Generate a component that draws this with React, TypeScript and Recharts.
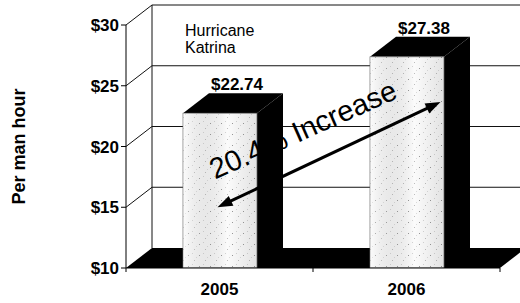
import React from 'react';
import {
  BarChart,
  Bar,
  XAxis,
  YAxis,
  CartesianGrid,
  LabelList,
  ReferenceLine,
  ReferenceDot,
} from 'recharts';

// ---- data ----
const years = ['2005', '2006'];
const costPerManHour = [22.74, 27.38];
const yTicks = [10, 15, 20, 25, 30];
const yAxisTitle = 'Per man hour';
const noteLines = ['Hurricane', 'Katrina'];
const increaseLabel = '20.4% Increase';
const arrowFrom = { year: '2005', value: 15 };
const arrowTo = { year: '2006', value: 23.66 };
const notePoint = { year: '2005', value: 29 };

const data = years.map((year, i) => ({ year, value: costPerManHour[i] }));

// ---- layout / style ----
const W = 520;
const H = 303;
const MARGIN = { top: 25, right: 20, bottom: 5, left: 0 };
const X_AXIS_H = 30;
const PLOT_BOTTOM = H - MARGIN.bottom - X_AXIS_H;
const DX = 26;
const DY = 20;
const FONT = '"Liberation Sans", Arial, Helvetica, sans-serif';

const gridLine = (props: any) => {
  const { x1, y1, x2, index } = props;
  const isFloor = Math.abs(y1 - PLOT_BOTTOM) < 1;
  if (isFloor) {
    const n = years.length;
    const ticks = [];
    for (let i = 0; i <= n; i++) {
      const tx = x1 + ((x2 - x1) * i) / n;
      ticks.push(<line key={i} x1={tx} y1={y1} x2={tx} y2={y1 + 4} stroke="#000" strokeWidth={1} />);
    }
    return (
      <g key={`grid-${index}`}>
        <polygon
          points={`${x1},${y1} ${x2},${y1} ${x2 + DX},${y1 - DY} ${x1 + DX},${y1 - DY}`}
          fill="#000"
        />
        {ticks}
      </g>
    );
  }
  return (
    <g key={`grid-${index}`}>
      <line x1={x1} y1={y1} x2={x1 + DX} y2={y1 - DY} stroke="#111" strokeWidth={1} />
      <line x1={x1 + DX} y1={y1 - DY} x2={x2 + DX + 40} y2={y1 - DY} stroke="#111" strokeWidth={1} />
    </g>
  );
};

const Bar3D = (props: any) => {
  const { x, y, width, height, index } = props;
  const bottom = y + height;
  const pid = `dots-${index}`;
  const gid = `shade-${index}`;
  return (
    <g>
      <defs>
        <pattern id={pid} width="11" height="11" patternUnits="userSpaceOnUse">
          <rect width="11" height="11" fill="#fbfbfb" />
          <rect x="1" y="2" width="1" height="1" fill="#9a9a9a" />
          <rect x="7" y="7" width="1" height="1" fill="#bdbdbd" />
          <rect x="5" y="0" width="1" height="1" fill="#d4d4d4" />
          <rect x="9" y="4" width="1" height="1" fill="#dcdcdc" />
        </pattern>
        <linearGradient id={gid} x1="0" y1="0" x2="1" y2="0">
          <stop offset="0%" stopColor="#ffffff" stopOpacity={0.3} />
          <stop offset="60%" stopColor="#000000" stopOpacity={0.0} />
          <stop offset="100%" stopColor="#000000" stopOpacity={0.1} />
        </linearGradient>
      </defs>
      <polygon
        points={`${x + width},${y} ${x + width + DX},${y - DY} ${x + width + DX},${bottom - DY} ${x + width},${bottom}`}
        fill="#000"
      />
      <polygon
        points={`${x},${y} ${x + DX},${y - DY} ${x + width + DX},${y - DY} ${x + width},${y}`}
        fill="#000"
      />
      <rect x={x} y={y} width={width} height={height} fill={`url(#${pid})`} stroke="#666" strokeWidth={0.7} />
      <rect x={x} y={y} width={width} height={height} fill={`url(#${gid})`} />
    </g>
  );
};

const renderBarLabel = (props: any) => {
  const { x, y, width, value } = props;
  return (
    <text
      x={x + width / 2 + 17}
      y={y - DY - 3}
      textAnchor="middle"
      fontFamily={FONT}
      fontWeight="bold"
      fontSize={17}
      fill="#000"
    >
      {`$${Number(value).toFixed(2)}`}
    </text>
  );
};

const renderYTitle = (props: any) => {
  const vb = props.viewBox || { x: 0, y: MARGIN.top, width: 126, height: PLOT_BOTTOM - MARGIN.top };
  const cx = 19;
  const cy = vb.y + vb.height / 2;
  return (
    <text
      x={cx}
      y={cy}
      transform={`rotate(-90, ${cx}, ${cy})`}
      textAnchor="middle"
      dominantBaseline="central"
      fontFamily={FONT}
      fontWeight="bold"
      fontSize={18}
      fill="#000"
    >
      {yAxisTitle}
    </text>
  );
};

const ArrowShape = (props: any) => {
  const { x1, y1, x2, y2 } = props;
  const sx = x1 - 2;
  const sy = y1;
  const ex = x2 + 34;
  const ey = y2;
  const len = Math.hypot(ex - sx, ey - sy);
  const ux = (ex - sx) / len;
  const uy = (ey - sy) / len;
  const px = -uy;
  const py = ux;
  const hl = 15;
  const hw = 5.5;
  const head = (tx: number, ty: number, d: number) => {
    const bx = tx - d * ux * hl;
    const by = ty - d * uy * hl;
    return `${tx},${ty} ${bx + px * hw},${by + py * hw} ${bx - px * hw},${by - py * hw}`;
  };
  const mx = (sx + ex) / 2;
  const my = (sy + ey) / 2;
  const tx = mx - 22;
  const ty = my - 16;
  return (
    <g>
      <line
        x1={sx + ux * hl * 0.8}
        y1={sy + uy * hl * 0.8}
        x2={ex - ux * hl * 0.8}
        y2={ey - uy * hl * 0.8}
        stroke="#000"
        strokeWidth={3}
      />
      <polygon points={head(ex, ey, 1)} fill="#000" />
      <polygon points={head(sx, sy, -1)} fill="#000" />
      <text
        x={tx}
        y={ty}
        transform={`rotate(-24, ${tx}, ${ty})`}
        textAnchor="middle"
        fontFamily={FONT}
        fontSize={29}
        fill="#000"
      >
        {increaseLabel}
      </text>
    </g>
  );
};

const NoteShape = (props: any) => {
  const { cx, cy } = props;
  const x = cx - 34.5;
  return (
    <g>
      {noteLines.map((line, i) => (
        <text key={i} x={x} y={cy - 1 + i * 16.5} fontFamily={FONT} fontSize={16} fill="#000">
          {line}
        </text>
      ))}
    </g>
  );
};

const LeftWallEdge = (props: any) => {
  const { x1, y1, x2, y2 } = props;
  return (
    <line x1={x1 + DX} y1={Math.min(y1, y2) - DY} x2={x2 + DX} y2={Math.max(y1, y2) - DY} stroke="#111" strokeWidth={1} />
  );
};

export default function App() {
  return (
    <div style={{ position: 'absolute', left: 0, top: 0, width: W, height: H, background: '#fff' }}>
      <BarChart width={W} height={H} data={data} margin={MARGIN} barSize={74}>
        <CartesianGrid horizontal={gridLine} vertical={false} stroke="#111" />
        <ReferenceLine
          segment={[
            { x: years[0], y: yTicks[0] },
            { x: years[0], y: yTicks[yTicks.length - 1] },
          ]}
          shape={LeftWallEdge}
          ifOverflow="visible"
          position="start"
        />
        <XAxis
          dataKey="year"
          height={X_AXIS_H}
          axisLine={{ stroke: '#000' }}
          tickLine={false}
          tickSize={0}
          tickMargin={15}
          tick={{ fontFamily: FONT, fontWeight: 'bold', fontSize: 17, fill: '#000' }}
        />
        <YAxis
          width={126}
          domain={[10, 30]}
          ticks={yTicks}
          tickFormatter={(v: number) => `$${v}`}
          axisLine={{ stroke: '#000' }}
          tickLine={{ stroke: '#000' }}
          tickSize={5}
          tickMargin={2}
          tick={{ fontFamily: FONT, fontWeight: 'bold', fontSize: 17, fill: '#000' }}
          label={{ value: yAxisTitle, content: renderYTitle }}
          allowDataOverflow
        />
        <Bar dataKey="value" shape={Bar3D} isAnimationActive={false}>
          <LabelList dataKey="value" content={renderBarLabel} />
        </Bar>
        <ReferenceDot x={notePoint.year} y={notePoint.value} r={0} shape={NoteShape} ifOverflow="visible" />
        <ReferenceLine
          segment={[
            { x: arrowFrom.year, y: arrowFrom.value },
            { x: arrowTo.year, y: arrowTo.value },
          ]}
          shape={ArrowShape}
          ifOverflow="visible"
        />
      </BarChart>
    </div>
  );
}
